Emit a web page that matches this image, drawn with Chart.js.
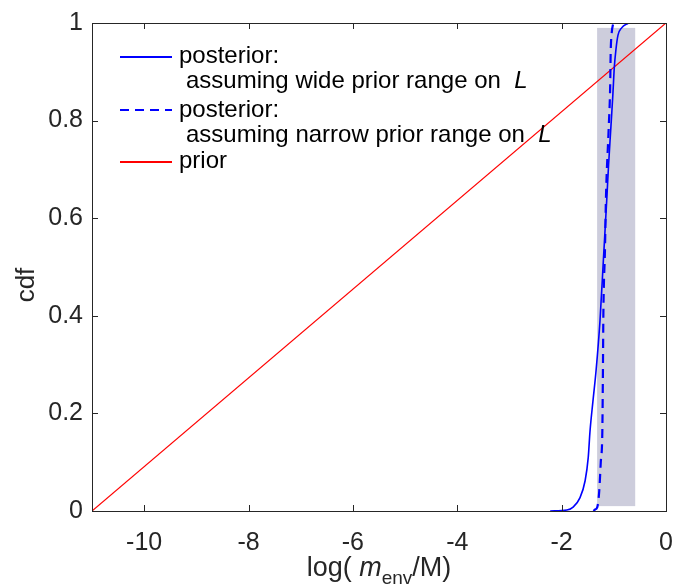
<!DOCTYPE html>
<html>
<head>
<meta charset="utf-8">
<script src="https://cdn.jsdelivr.net/npm/chart.js@4.4.1/dist/chart.umd.min.js"></script>
<style>
  html, body { margin: 0; padding: 0; background: #fff; }
  #wrap { width: 676px; height: 585px; position: relative; }
</style>
</head>
<body>
<div id="wrap"><canvas id="cdfChart"></canvas></div>
<script>
// posterior cdf, wide prior range on L (solid)
let wideX = [-2.22, -1.90, -1.78, -1.65, -1.55, -1.49, -1.456, -1.40, -1.34, -1.265, -1.20, -1.136, -1.10, -1.06, -1.02, -0.99, -0.96, -0.92, -0.85, -0.72];
let wideY = [0, 0.002, 0.008, 0.027, 0.062, 0.11, 0.164, 0.225, 0.288, 0.39, 0.514, 0.637, 0.71, 0.78, 0.85, 0.91, 0.945, 0.975, 0.99, 1.0];

// posterior cdf, narrow prior range on L (dashed)
let narrowX = [-1.39, -1.36, -1.32, -1.28, -1.25, -1.22, -1.21, -1.20, -1.17, -1.15, -1.10, -1.07, -1.06, -1.04, -1.01];
let narrowY = [0, 0.003, 0.007, 0.04, 0.10, 0.164, 0.27, 0.405, 0.534, 0.645, 0.78, 0.87, 0.94, 0.98, 1.0];

// prior cdf
let priorX = [-11, 0];
let priorY = [0, 1];

// shaded band
let bandX = [-1.32, -0.59];
let bandY = [0.01, 0.99];

let xTickValues = [-10, -8, -6, -4, -2, 0];
let yTickValues = [0, 0.2, 0.4, 0.6, 0.8, 1];

let legendRows = [
    {text : 'posterior:', sub : 'assuming wide prior range on  ', color : '#0000ff', dash : []},
    {text : 'posterior:', sub : 'assuming narrow prior range on  ', color : '#0000ff', dash : [9, 6]},
    {text : 'prior', sub : null, color : '#ff0000', dash : []}
];

const FONT = '"Liberation Sans", Arial, Helvetica, sans-serif';

function toPoints(xs, ys) {
    return xs.map((x, i) => ({x : x, y : ys[i]}));
}

let bandPlugin = {
    id : 'band',
    beforeDatasetsDraw(chart) {
        let ctx = chart.ctx, xs = chart.scales.x, ys = chart.scales.y;
        let x0 = xs.getPixelForValue(bandX[0]), x1 = xs.getPixelForValue(bandX[1]);
        let y0 = ys.getPixelForValue(bandY[1]), y1 = ys.getPixelForValue(bandY[0]);
        ctx.save();
        ctx.fillStyle = 'rgb(205, 205, 220)';
        ctx.fillRect(x0, y0, x1 - x0, y1 - y0);
        ctx.restore();
    }
};

let framePlugin = {
    id : 'frame',
    afterDatasetsDraw(chart) {
        let ctx = chart.ctx, a = chart.chartArea, xs = chart.scales.x, ys = chart.scales.y;
        ctx.save();
        ctx.strokeStyle = '#262626';
        ctx.lineWidth = 1;
        ctx.beginPath();
        xTickValues.forEach(v => {
            let px = Math.round(xs.getPixelForValue(v)) + 0.5;
            ctx.moveTo(px, a.bottom); ctx.lineTo(px, a.bottom - 6);
            ctx.moveTo(px, a.top); ctx.lineTo(px, a.top + 6);
        });
        yTickValues.forEach(v => {
            let py = Math.round(ys.getPixelForValue(v)) + 0.5;
            ctx.moveTo(a.left, py); ctx.lineTo(a.left + 6, py);
            ctx.moveTo(a.right, py); ctx.lineTo(a.right - 6, py);
        });
        ctx.stroke();
        ctx.strokeRect(Math.round(a.left) + 0.5, Math.round(a.top) + 0.5, Math.round(a.right - a.left), Math.round(a.bottom - a.top));
        ctx.restore();
    }
};

let labelsPlugin = {
    id : 'labels',
    afterDraw(chart) {
        let ctx = chart.ctx, a = chart.chartArea;
        ctx.save();
        ctx.fillStyle = '#262626';
        ctx.textBaseline = 'alphabetic';

        // x axis title: log( m_env/M)
        let cx = (a.left + a.right) / 2;
        let base = 576;
        let p1 = 'log( ', p2 = 'm', p3 = 'env', p4 = '/M)';
        ctx.font = '27px ' + FONT;
        let w1 = ctx.measureText(p1).width, w4 = ctx.measureText(p4).width;
        ctx.font = 'italic 27px ' + FONT;
        let w2 = ctx.measureText(p2).width;
        ctx.font = '19px ' + FONT;
        let w3 = ctx.measureText(p3).width;
        let x = cx - (w1 + w2 + w3 + w4) / 2;
        ctx.textAlign = 'left';
        ctx.font = '27px ' + FONT;
        ctx.fillText(p1, x, base); x += w1;
        ctx.font = 'italic 27px ' + FONT;
        ctx.fillText(p2, x, base); x += w2;
        ctx.font = '19px ' + FONT;
        ctx.fillText(p3, x, base + 8); x += w3;
        ctx.font = '27px ' + FONT;
        ctx.fillText(p4, x, base);

        // y axis title
        ctx.save();
        ctx.translate(34, 285);
        ctx.rotate(-Math.PI / 2);
        ctx.textAlign = 'center';
        ctx.font = '26px ' + FONT;
        ctx.fillText('cdf', 0, 0);
        ctx.restore();

        // legend
        let lx0 = 120, lx1 = 172, tx = 179;
        let lineY = [57, 110, 162];
        let textY = [63, 117, 168];
        legendRows.forEach((r, i) => {
            ctx.save();
            ctx.strokeStyle = r.color;
            ctx.lineWidth = 2;
            ctx.setLineDash(r.dash);
            ctx.beginPath();
            ctx.moveTo(lx0, lineY[i]); ctx.lineTo(lx1, lineY[i]);
            ctx.stroke();
            ctx.restore();
            ctx.fillStyle = '#000';
            ctx.font = '24px ' + FONT;
            ctx.textAlign = 'left';
            ctx.fillText(r.text, tx, textY[i]);
            if (r.sub) {
                let sy = textY[i] + 25;
                ctx.fillText(r.sub, tx + 7, sy);
                let sw = ctx.measureText(r.sub).width;
                ctx.font = 'italic 24px ' + FONT;
                ctx.fillText('L', tx + 7 + sw, sy);
            }
        });
        ctx.restore();
    }
};

let chartContainer = document.getElementById('cdfChart').getContext('2d');

let config = {
    type : 'scatter',
    data : {
        datasets : [{
            label : 'posterior wide',
            data : toPoints(wideX, wideY),
            showLine : true,
            borderColor : '#0000ff',
            borderWidth : 1.6,
            pointRadius : 0,
            cubicInterpolationMode : 'monotone'
        }, {
            label : 'posterior narrow',
            data : toPoints(narrowX, narrowY),
            showLine : true,
            borderColor : '#0000ff',
            borderWidth : 2.2,
            borderDash : [9, 6],
            pointRadius : 0,
            cubicInterpolationMode : 'monotone'
        }, {
            label : 'prior',
            data : toPoints(priorX, priorY),
            showLine : true,
            borderColor : '#ff0000',
            borderWidth : 1.2,
            pointRadius : 0
        }]
    },
    options : {
        responsive : true,
        maintainAspectRatio : false,
        animation : false,
        layout : {padding : {top : 23, right : 10, left : 0, bottom : 0}},
        plugins : {
            legend : {display : false},
            tooltip : {enabled : false}
        },
        scales : {
            x : {
                type : 'linear',
                min : -11,
                max : 0,
                afterBuildTicks : s => { s.ticks = xTickValues.map(v => ({value : v})); },
                afterFit : s => { s.height = 74; s.paddingLeft = 0; s.paddingRight = 0; },
                grid : {display : false, drawTicks : false},
                border : {display : false},
                ticks : {color : '#262626', font : {family : FONT, size : 25}, padding : 17, maxRotation : 0}
            },
            y : {
                type : 'linear',
                min : 0,
                max : 1,
                afterBuildTicks : s => { s.ticks = yTickValues.map(v => ({value : v})); },
                afterFit : s => { s.width = 92; s.paddingTop = 0; s.paddingBottom = 0; },
                grid : {display : false, drawTicks : false},
                border : {display : false},
                ticks : {color : '#262626', font : {family : FONT, size : 25}, padding : 9, callback : v => String(v)}
            }
        }
    },
    plugins : [bandPlugin, framePlugin, labelsPlugin]
};

let chart = new Chart(chartContainer, config);
</script>
</body>
</html>
